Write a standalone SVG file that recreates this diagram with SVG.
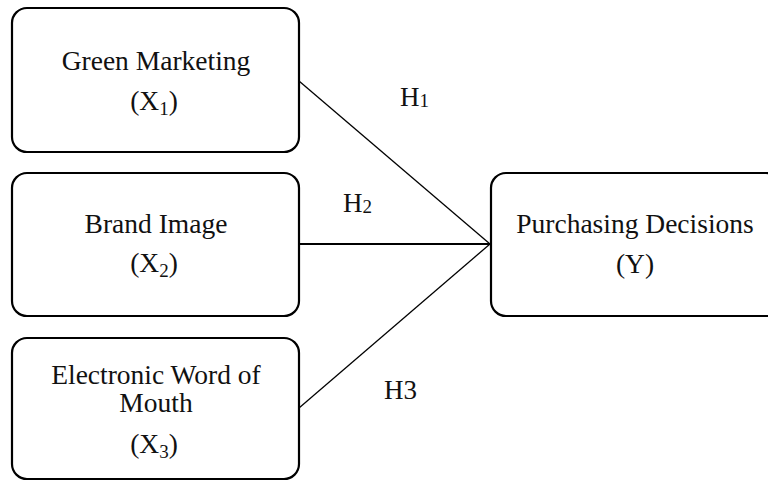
<svg xmlns="http://www.w3.org/2000/svg" width="768" height="481" viewBox="0 0 768 481">
<style>
  .box { fill: #fff; stroke: #000; stroke-width: 2.2; }
  .t { font-family: "Liberation Serif", "Times New Roman", serif; font-size: 27.5px; fill: #111; text-anchor: middle; }
  .h { font-family: "Liberation Serif", "Times New Roman", serif; font-size: 27px; fill: #111; }
  .sub { font-size: 19px; }
  .conn { stroke: #000; fill: none; }
</style>
<rect width="768" height="481" fill="#fff"/>
<g id="connectors">
  <line class="conn" x1="299" y1="81" x2="490" y2="244" stroke-width="1.3"/>
  <line class="conn" x1="299" y1="244" x2="490" y2="244" stroke-width="2"/>
  <line class="conn" x1="299" y1="408" x2="490" y2="244" stroke-width="1.3"/>
  <text class="h" x="400" y="106">H<tspan class="sub" dy="1">1</tspan></text>
  <text class="h" x="343" y="212">H<tspan class="sub" dy="1">2</tspan></text>
  <text class="h" x="384" y="399">H3</text>
</g>
<g id="x1">
  <rect class="box" x="12" y="8" width="287" height="144" rx="15"/>
  <text class="t" x="156" y="70">Green Marketing</text>
  <text class="t" x="154" y="110">(X<tspan class="sub" dy="5">1</tspan><tspan dy="-5">)</tspan></text>
</g>
<g id="x2">
  <rect class="box" x="12" y="173" width="287" height="143" rx="15"/>
  <text class="t" x="156" y="233">Brand Image</text>
  <text class="t" x="154" y="272">(X<tspan class="sub" dy="5">2</tspan><tspan dy="-5">)</tspan></text>
</g>
<g id="x3">
  <rect class="box" x="12" y="338" width="287" height="141" rx="15"/>
  <text class="t" x="156" y="384">Electronic Word of</text>
  <text class="t" x="156" y="412">Mouth</text>
  <text class="t" x="154" y="453">(X<tspan class="sub" dy="5">3</tspan><tspan dy="-5">)</tspan></text>
</g>
<g id="y">
  <rect class="box" x="491" y="173" width="290" height="143" rx="15"/>
  <text class="t" x="635" y="233">Purchasing Decisions</text>
  <text class="t" x="635" y="273">(Y)</text>
</g>
</svg>
